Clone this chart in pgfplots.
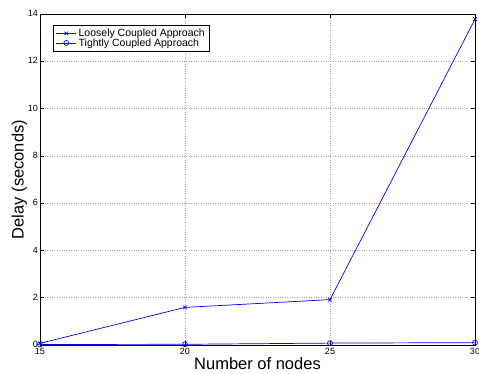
\documentclass[border=0pt]{standalone}
\usepackage{fontspec}
\setmainfont{Liberation Sans}
\usepackage{pgfplots}
\pgfplotsset{compat=1.18}
\begin{document}
\begin{tikzpicture}
\begin{axis}[
  name=ax,
  scale only axis,
  width=435pt, height=331pt,
  xmin=15, xmax=30, ymin=0, ymax=14,
  xtick={15,20,25,30},
  ytick={0,2,4,6,8,10,12,14},
  grid=major,
  major grid style={dotted, gray!70, line width=0.6pt},
  tick align=inside,
  tick pos=both,
  major tick length=4pt,
  axis line style={line width=0.8pt},
  every tick/.style={black, line width=0.6pt},
  /pgf/number format/assume math mode=true,
  tick label style={font=\fontsize{9}{10}\selectfont},
  xticklabel style={yshift=0.5pt},
  yticklabel style={xshift=1.5pt, yshift=0.5pt},
  xlabel={Number of nodes},
  ylabel={Delay (seconds)},
  label style={font=\fontsize{16.5}{18}\selectfont},
  xlabel style={yshift=3.5pt},
  ylabel style={yshift=-6pt},
  legend style={at={(0.03,0.967)}, anchor=north west, draw=black, line width=0.8pt,
    font=\fontsize{10.5}{10.5}\selectfont, inner xsep=2.5pt, inner ysep=1.5pt, row sep=-3.5pt,
    cells={anchor=west}},
  legend image code/.code={%
    \draw[mark repeat=2,mark phase=2] plot coordinates {(0pt,0pt) (10pt,0pt) (20pt,0pt)};},
  legend cell align=left,
]
\addplot[blue, line width=0.7pt, mark=x, mark size=2.5pt, mark options={line width=0.7pt}]
  coordinates {(15,0.07) (20,1.59) (25,1.92) (30,13.78)};
\addlegendentry{Loosely Coupled Approach}
\addplot[blue, line width=0.7pt, mark=o, mark size=2.5pt, mark options={line width=0.7pt}]
  coordinates {(15,0.02) (20,0.03) (25,0.08) (30,0.10)};
\addlegendentry{Tightly Coupled Approach}
\end{axis}
\pgfresetboundingbox
\path ([shift={(-40pt,-29pt)}]ax.south west) rectangle ([shift={(4pt,14pt)}]ax.north east);
\end{tikzpicture}
\end{document}
